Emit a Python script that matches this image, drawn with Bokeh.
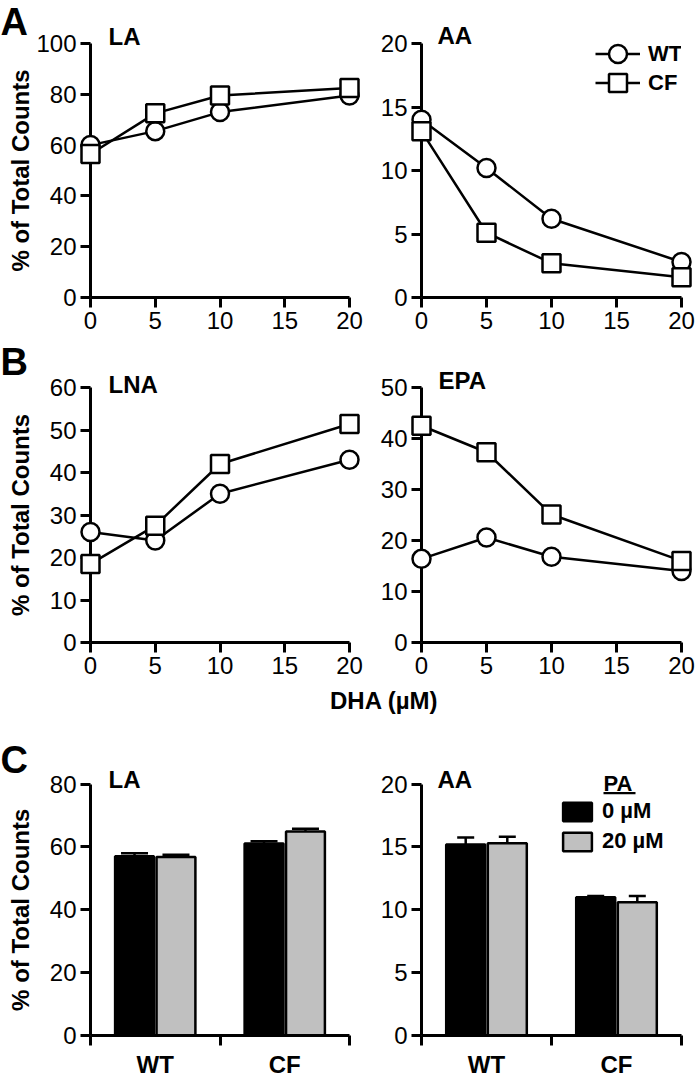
import math
from bokeh.plotting import figure
from bokeh.models import (Range1d, FixedTicker, Legend, LegendItem, Whisker,
                          TeeHead, ColumnDataSource, Div, BoxAnnotation)
from bokeh.core.properties import value
from bokeh.layouts import column, row
from bokeh.embed import file_html
from bokeh.resources import INLINE

FONT = "Liberation Sans"

# ---------------- data ----------------
dha = [0, 5, 10, 20]
x_ticks_dha = [0, 5, 10, 15, 20]

la_wt = [60.0, 65.5, 73.0, 79.5]
la_cf = [56.5, 72.5, 79.5, 82.5]
aa_wt = [14.0, 10.2, 6.2, 2.8]
aa_cf = [13.1, 5.1, 2.7, 1.6]
lna_wt = [26.0, 24.0, 35.0, 43.0]
lna_cf = [18.5, 27.5, 42.0, 51.4]
epa_wt = [16.4, 20.6, 16.8, 14.0]
epa_cf = [42.5, 37.3, 25.1, 16.0]

genotypes = ["WT", "CF"]
pa_levels = ["0 µM", "20 µM"]
c_la_0 = [57.0, 61.1]
c_la_0_err = [1.0, 0.7]
c_la_20 = [56.8, 64.9]
c_la_20_err = [0.7, 0.9]
c_aa_0 = [15.2, 11.0]
c_aa_0_err = [0.55, 0.1]
c_aa_20 = [15.3, 10.6]
c_aa_20_err = [0.5, 0.5]

Y_TITLE = "% of Total Counts"

# ---------------- geometry ----------------
LEFT_W, RIGHT_W = 366, 331
L_BL, L_FW, L_BR = 90, 259, 17
R_BL, R_FW, R_BR = 55, 260, 16


def base_fig(is_left, x_end, y_end, y_ticks, height, top, bottom, extend_top=False):
    if is_left:
        w, bl, br = LEFT_W, L_BL, L_BR
    else:
        w, bl, br = RIGHT_W, R_BL, R_BR
    y_range = Range1d(0, y_end)
    if extend_top:
        # let the frame reach the top of the canvas; the axis stays on 0..y_end
        fh = height - top - bottom
        y_range = Range1d(0, y_end * (height - bottom) / fh)
        top = 0
    p = figure(width=w, height=height, x_range=Range1d(0, x_end), y_range=y_range,
               min_border_left=bl, min_border_right=br, min_border_top=top,
               min_border_bottom=bottom, output_backend="svg", toolbar_location=None, tools="")
    p.outline_line_color = None
    p.background_fill_color = "white"
    p.border_fill_color = "white"
    p.xgrid.visible = False
    p.ygrid.visible = False
    for ax in (p.xaxis[0], p.yaxis[0]):
        ax.axis_line_width = 3
        ax.axis_line_color = "black"
        ax.major_tick_line_width = 3
        ax.major_tick_line_color = "black"
        ax.major_tick_out = 10
        ax.major_tick_in = 0
        ax.minor_tick_line_color = None
        ax.major_label_text_font = FONT
        ax.major_label_text_font_size = "24px"
        ax.major_label_text_color = "black"
        ax.major_label_standoff = 4
    p.yaxis[0].ticker = FixedTicker(ticks=y_ticks)
    p.yaxis[0].bounds = (0, y_end)
    if is_left:
        # y title, centred on the 0..y_end axis
        r = p.text(x=[0], y=[y_end / 2.0], text=[Y_TITLE], angle=math.pi / 2,
                   x_offset=-70, y_offset=0, text_font=value(FONT), text_font_size="24px",
                   text_font_style="bold", text_color="black", text_align="center",
                   text_baseline="middle")
        r.level = "overlay"
    return p


def add_text(p, text, y_top, x_off, y_off, size="24px"):
    # anchored at the top of the y axis (x = 0, y = y_top), offsets in pixels
    r = p.text(x=[p.x_range.start], y=[y_top], text=[text],
               x_offset=x_off, y_offset=y_off, text_font=value(FONT),
               text_font_size=size, text_font_style="bold", text_color="black",
               text_align="left", text_baseline="middle")
    r.level = "overlay"
    return r


def line_panel(p, wt, cf):
    p.xaxis[0].ticker = FixedTicker(ticks=x_ticks_dha)
    lw = p.line(dha, wt, line_color="black", line_width=2.5)
    lc = p.line(dha, cf, line_color="black", line_width=2.5)
    sw = p.scatter(dha, wt, marker="circle", size=18, fill_color="white",
                   line_color="black", line_width=2.5)
    sc = p.scatter(dha, cf, marker="square", size=18, fill_color="white",
                   line_color="black", line_width=2.5)
    for r in (lw, lc, sw, sc):
        r.level = "overlay"
    return lw, lc, sw, sc


def legend_one(label, renderers, x, y):
    return Legend(items=[LegendItem(label=label, renderers=renderers)],
                  location=(x, y), orientation="vertical",
                  glyph_width=45, glyph_height=45, spacing=0, padding=0, margin=0,
                  label_standoff=8, label_text_font=FONT, label_text_font_size="22px",
                  label_text_font_style="bold", label_text_color="black",
                  border_line_color=None, background_fill_alpha=0)


BAR_OFF = 0.16
BAR_W = 0.3


def bar_panel(p, v0, e0, v20, e20, cap):
    xa = p.xaxis[0]
    xa.ticker = FixedTicker(ticks=[i + 0.5 for i in range(len(genotypes))],
                            minor_ticks=[i for i in range(len(genotypes) + 1)])
    xa.major_label_overrides = {i + 0.5: g for i, g in enumerate(genotypes)}
    xa.major_tick_out = 0
    xa.major_tick_line_color = None
    xa.minor_tick_out = 10
    xa.minor_tick_in = 0
    xa.minor_tick_line_color = "black"
    xa.minor_tick_line_width = 3
    xa.major_label_text_font_style = "bold"
    xa.major_label_standoff = 5
    x0 = [i + 0.5 - BAR_OFF for i in range(len(genotypes))]
    x20 = [i + 0.5 + BAR_OFF for i in range(len(genotypes))]
    rends = []
    for xs, vals, errs, col in ((x0, v0, e0, "black"), (x20, v20, e20, "#c0c0c0")):
        src = ColumnDataSource(dict(x=xs, top=vals, upper=[v + e for v, e in zip(vals, errs)]))
        p.add_layout(Whisker(base="x", lower="top", upper="upper", source=src,
                             lower_head=None,
                             upper_head=TeeHead(size=cap, line_width=2.5, line_color="black"),
                             line_width=2.5, line_color="black"))
        r = p.vbar(x="x", top="top", bottom=0, width=BAR_W, source=src, fill_color=col,
                   line_color="black", line_width=2.5)
        rends.append(r)
    return rends


# ---------------- row A ----------------
A_H, A_T, A_B = 340, 43, 43
A_FH = A_H - A_T - A_B
pA1 = base_fig(True, 20, 100, [0, 20, 40, 60, 80, 100], A_H, A_T, A_B, extend_top=True)
line_panel(pA1, la_wt, la_cf)
add_text(pA1, "A", 100, -L_BL, -21.5, size="38px")
add_text(pA1, "LA", 100, 18, -7.5)

pA2 = base_fig(False, 20, 20, [0, 5, 10, 15, 20], A_H, A_T, A_B, extend_top=True)
lw, lc, sw, sc = line_panel(pA2, aa_wt, aa_cf)
add_text(pA2, "AA", 20, 16, -8.5)
pA2.add_layout(legend_one("WT", [lw, sw], 174, int(A_FH - 32.5)))
pA2.add_layout(legend_one("CF", [lc, sc], 174, int(A_FH - 61.5)))

# ---------------- row B ----------------
B_H, B_T, B_B = 348, 47, 46
B_FH = B_H - B_T - B_B
pB1 = base_fig(True, 20, 60, [0, 10, 20, 30, 40, 50, 60], B_H, B_T, B_B)
line_panel(pB1, lna_wt, lna_cf)
add_text(pB1, "B", 60, -L_BL, -25.5, size="38px")
add_text(pB1, "LNA", 60, 18, -3.5)

pB2 = base_fig(False, 20, 50, [0, 10, 20, 30, 40, 50], B_H, B_T, B_B)
line_panel(pB2, epa_wt, epa_cf)
add_text(pB2, "EPA", 50, 17, -7)

dha_div = Div(text='<div style="font-family:\'Liberation Sans\';font-weight:bold;font-size:24px;'
                   'line-height:26px;padding-left:330px;color:black;white-space:nowrap;">'
                   'DHA (µM)</div>',
              width=LEFT_W + RIGHT_W, height=26, margin=(0, 0, 0, 0))

# ---------------- row C ----------------
C_H, C_T, C_B = 366, 70, 43
C_FH = C_H - C_T - C_B
pC1 = base_fig(True, 2, 80, [0, 20, 40, 60, 80], C_H, C_T, C_B, extend_top=True)
bar_panel(pC1, c_la_0, c_la_0_err, c_la_20, c_la_20_err, cap=27)
add_text(pC1, "C", 80, -L_BL, -24, size="38px")
add_text(pC1, "LA", 80, 18, -4.5)

pC2 = base_fig(False, 2, 20, [0, 5, 10, 15, 20], C_H, C_T, C_B, extend_top=True)
r0, r20 = bar_panel(pC2, c_aa_0, c_aa_0_err, c_aa_20, c_aa_20_err, cap=17)
add_text(pC2, "AA", 20, 16, -4.5)
add_text(pC2, "PA", 20, 182, -1, size="22px")
# underline of the legend heading (pixel offsets converted to the frame's data units)
ppx = R_FW / 2.0
ppy = C_FH / 20.0
pC2.add_layout(BoxAnnotation(left=182 / ppx, right=214 / ppx,
                             top=20 - 8 / ppy, bottom=20 - 10.3 / ppy,
                             fill_color="black", fill_alpha=1, line_color=None))
legC = Legend(items=[LegendItem(label=pa_levels[0], renderers=[r0]),
                     LegendItem(label=pa_levels[1], renderers=[r20])],
              location=(138, int(C_FH - 72)), orientation="vertical",
              glyph_width=36, glyph_height=23, spacing=4, padding=0, margin=0,
              label_standoff=7, label_text_font=FONT, label_text_font_size="22px",
              label_text_font_style="bold", label_text_color="black",
              border_line_color=None, background_fill_alpha=0)
pC2.add_layout(legC)

layout = column(row(pA1, pA2), row(pB1, pB2), dha_div, row(pC1, pC2))

with open("out.html", "w") as f:
    f.write(file_html(layout, INLINE))
